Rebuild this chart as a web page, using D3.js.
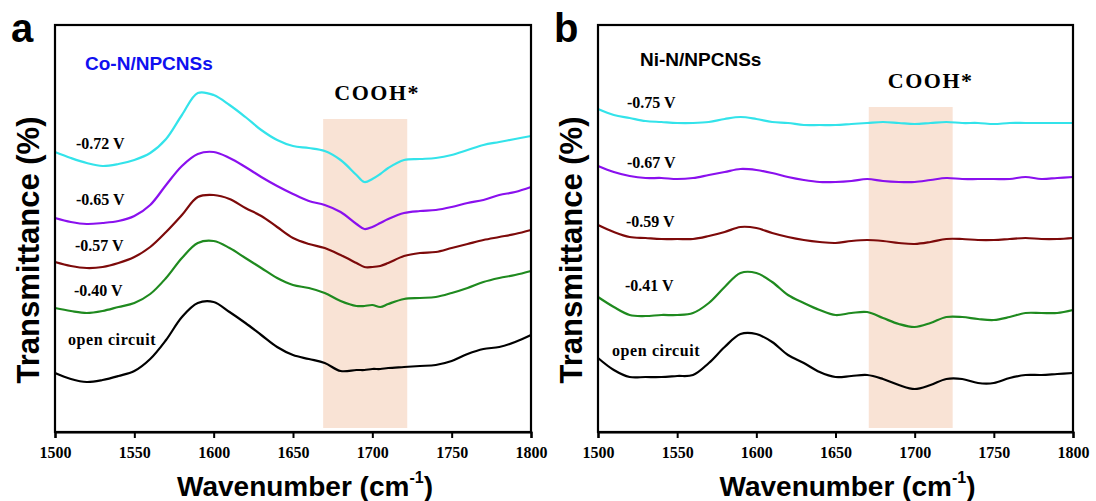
<!DOCTYPE html>
<html>
<head>
<meta charset="utf-8">
<script src="https://cdn.jsdelivr.net/npm/d3@7"></script>
<style>
  body { margin: 0; background: #fff; }
</style>
</head>
<body>
<div id="chart-area"></div>
<script>
// wavenumber grids (cm-1)
const wavenumA = [1500,1510,1520,1530,1540,1550,1560,1570,1580,1590,1600,1610,1620,1630,1640,1650,1660,1670,1680,1690,1695,1700,1705,1710,1720,1730,1740,1750,1760,1770,1780,1790,1800];
const wavenumB = [1500,1510,1520,1530,1540,1550,1560,1570,1580,1590,1600,1610,1620,1630,1640,1650,1660,1670,1680,1690,1700,1710,1720,1730,1740,1750,1760,1770,1780,1790,1800];

// panel a: Co-N/NPCNSs, offset transmittance (a.u.)
const coOpen = [59,53,50,52,56,61,73,92,115,129,130,120,109,97,85,77,73,69,61,62,62,63,63,64,65,66,67,71,78,83,85,90,97];
const co040  = [124,121,119,121,125,129,138,154,174,189,191,184,174,164,154,147,144,139,131,126,126,127,125,128,133,134,135,139,144,150,154,157,161];
const co057  = [170,166,164,165,169,175,185,200,217,235,237,233,224,216,205,194,188,184,177,169,165,165,166,169,176,179,180,184,188,192,195,198,202];
const co065  = [214,210,208,209,211,216,227,247,266,278,280,274,265,255,246,238,231,227,220,208,203,205,209,213,219,221,222,225,229,232,237,240,245];
const co072  = [280,274,269,266,268,272,279,293,317,339,337,327,315,302,292,286,284,281,272,257,250,253,258,264,272,273,274,277,282,287,290,293,296];

// panel b: Ni-N/NPCNSs
const niOpen = [74,62,55,55,55,56,57,69,85,98,98,90,77,69,60,55,56,57,53,47,43,47,53,53,49,49,54,57,57,58,59];
const ni041  = [135,125,117,116,117,117,119,129,145,159,159,150,137,129,122,117,119,120,114,108,105,109,115,115,113,112,115,119,119,119,122];
const ni059  = [207,200,195,194,193,193,193,196,200,205,204,199,195,192,190,189,191,192,191,189,188,190,193,193,192,192,193,194,193,193,194];
const ni067  = [266,260,256,254,254,253,254,257,260,263,262,259,255,252,250,250,251,253,251,250,250,252,254,253,253,253,253,255,253,254,255];
const ni075  = [323,317,314,311,310,309,309,310,313,315,313,310,309,307,307,307,308,309,310,309,308,309,310,309,309,308,309,309,309,309,309];

const seriesLabelsA = ["open circuit", "-0.40 V", "-0.57 V", "-0.65 V", "-0.72 V"];
const seriesLabelsB = ["open circuit", "-0.41 V", "-0.59 V", "-0.67 V", "-0.75 V"];
const COLORS = ["#000000", "#1f8a1f", "#7d0a0a", "#8a10ee", "#33e3ea"];
const xTicks = [1500, 1550, 1600, 1650, 1700, 1750, 1800];
const coohBandA = [1669, 1722];
const coohBandB = [1671, 1724];

const W = 1096, H = 501;
const TOP = 25, BOTTOM = 432;

const svg = d3.select("#chart-area").append("svg")
    .attr("width", W)
    .attr("height", H);

function drawPanel(opt) {
    const x = d3.scaleLinear().domain([1500, 1800]).range([opt.left, opt.right]);
    const y = d3.scaleLinear().domain([0, 407]).range([BOTTOM, TOP]);
    const g = svg.append("g");

    // COOH* band
    g.append("rect")
        .attr("x", x(opt.band[0]))
        .attr("width", x(opt.band[1]) - x(opt.band[0]))
        .attr("y", opt.bandTop)
        .attr("height", BOTTOM - 4 - opt.bandTop)
        .attr("fill", "#f9e3d5");

    g.append("text")
        .attr("x", (x(opt.band[0]) + x(opt.band[1])) / 2 + opt.coohShift)
        .attr("y", opt.bandTop - 19)
        .attr("text-anchor", "middle")
        .attr("font-family", "Liberation Serif, Times New Roman, serif")
        .attr("font-weight", "bold")
        .attr("font-size", "22px")
        .attr("letter-spacing", "1.5px")
        .text("COOH*");

    const line = d3.line()
        .x((d, i) => x(opt.wn[i]))
        .y(d => y(d))
        .curve(d3.curveCatmullRom.alpha(0.5));

    opt.series.forEach((s, i) => {
        g.append("path")
            .attr("d", line(s))
            .attr("fill", "none")
            .attr("stroke", COLORS[i])
            .attr("stroke-width", 2.2);
    });

    // curve labels
    opt.labels.forEach((t, i) => {
        g.append("text")
            .attr("x", opt.labelPos[i][0])
            .attr("y", opt.labelPos[i][1])
            .attr("font-family", "Liberation Serif, Times New Roman, serif")
            .attr("font-weight", "bold")
            .attr("font-size", "16px")
            .attr("letter-spacing", i === 0 ? "0.6px" : "0px")
            .text(t);
    });

    // frame
    g.append("rect")
        .attr("x", opt.left)
        .attr("y", TOP)
        .attr("width", opt.right - opt.left)
        .attr("height", BOTTOM - TOP)
        .attr("fill", "none")
        .attr("stroke", "#000")
        .attr("stroke-width", 2.2);

    const xAxis = g.append("g")
        .attr("transform", `translate(0, ${BOTTOM})`)
        .call(d3.axisBottom(x).tickValues(xTicks).tickSize(6).tickPadding(9).tickFormat(d3.format("d")));
    xAxis.select(".domain").attr("stroke-width", 2.2);
    xAxis.selectAll(".tick line").attr("stroke-width", 2);
    xAxis.selectAll("text")
        .attr("font-family", "Liberation Serif, Times New Roman, serif")
        .attr("font-weight", "bold")
        .attr("font-size", "16px")
        .attr("fill", "#000");

    // X label
    const xl = svg.append("text")
        .attr("x", (opt.left + opt.right) / 2 + 12)
        .attr("y", 496)
        .attr("text-anchor", "middle")
        .attr("font-family", "Liberation Sans, Arial, sans-serif")
        .attr("font-weight", "bold")
        .attr("font-size", "28px");
    xl.append("tspan").text("Wavenumber (cm");
    xl.append("tspan").attr("dy", -13).attr("font-size", "16px").text("-1");
    xl.append("tspan").attr("dy", 13).text(")");

    // Y label
    svg.append("text")
        .attr("transform", `translate(${opt.left - 16}, 250) rotate(-90)`)
        .attr("text-anchor", "middle")
        .attr("font-family", "Liberation Sans, Arial, sans-serif")
        .attr("font-weight", "bold")
        .attr("font-size", "31px")
        .text("Transmittance (%)");

    // panel letter
    svg.append("text")
        .attr("x", opt.left - 44)
        .attr("y", 42)
        .attr("font-family", "Liberation Sans, Arial, sans-serif")
        .attr("font-weight", "bold")
        .attr("font-size", "40px")
        .text(opt.letter);

    // sample name
    svg.append("text")
        .attr("x", opt.nameX)
        .attr("y", opt.nameY)
        .attr("font-family", "Liberation Sans, Arial, sans-serif")
        .attr("font-weight", "bold")
        .attr("font-size", "19px")
        .attr("fill", opt.nameColor)
        .text(opt.name);
}

drawPanel({
    left: 55, right: 531, wn: wavenumA,
    series: [coOpen, co040, co057, co065, co072],
    labels: seriesLabelsA,
    labelPos: [[68, 345], [74, 296], [75, 251], [76, 205], [76, 149]],
    band: coohBandA, bandTop: 119, coohShift: 12,
    letter: "a", name: "Co-N/NPCNSs", nameX: 85, nameY: 70, nameColor: "#1010f0"
});

drawPanel({
    left: 598, right: 1073, wn: wavenumB,
    series: [niOpen, ni041, ni059, ni067, ni075],
    labels: seriesLabelsB,
    labelPos: [[612, 356], [625, 291], [626, 227], [627, 168], [627, 108]],
    band: coohBandB, bandTop: 107, coohShift: 20,
    letter: "b", name: "Ni-N/NPCNSs", nameX: 640, nameY: 66, nameColor: "#000"
});
</script>
</body>
</html>
